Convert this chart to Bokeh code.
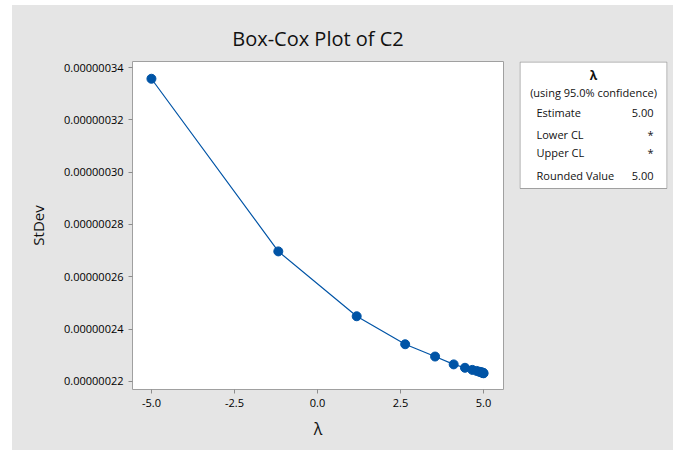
from bokeh.plotting import figure
from bokeh.layouts import row
from bokeh.models import Range1d, FixedTicker, PrintfTickFormatter, NumeralTickFormatter
from bokeh.core.properties import value
from bokeh.embed import file_html
from bokeh.resources import INLINE

# Data
lam = [-5.0, -1.18, 1.18, 2.64, 3.54, 4.10, 4.44, 4.66, 4.79, 4.87, 4.92, 4.95, 4.97, 4.98, 4.99, 5.0]
stdev = [3.357e-7, 2.697e-7, 2.449e-7, 2.342e-7, 2.295e-7, 2.265e-7, 2.252e-7, 2.244e-7,
         2.240e-7, 2.237e-7, 2.235e-7, 2.234e-7, 2.233e-7, 2.233e-7, 2.232e-7, 2.231e-7]
x_ticks = [-5.0, -2.5, 0.0, 2.5, 5.0]
y_ticks = [2.2e-7, 2.4e-7, 2.6e-7, 2.8e-7, 3.0e-7, 3.2e-7, 3.4e-7]

legend_title = "λ"
legend_sub = "(using 95.0% confidence)"
legend_names = ["Estimate", "Lower CL", "Upper CL", "Rounded Value"]
legend_vals = ["5.00", "*", "*", "5.00"]

BG = "#E5E5E5"
BLUE = "#0054A6"
FONT = "Open Sans"

p = figure(width=501, height=445, output_backend="svg", toolbar_location=None,
           x_range=Range1d(-5.57, 5.6), y_range=Range1d(2.169e-7, 3.423e-7),
           min_border_left=120, min_border_right=10, min_border_top=56, min_border_bottom=61,
           title="Box-Cox Plot of C2")
p.border_fill_color = BG
p.background_fill_color = "white"
p.outline_line_color = "#A0A0A0"
p.outline_line_width = 1
p.grid.visible = False

p.title.align = "center"
p.title.text_font = FONT
p.title.text_font_size = "20px"
p.title.text_font_style = "normal"
p.title.text_color = "#111111"
p.title.standoff = 19

for ax in (p.xaxis[0], p.yaxis[0]):
    ax.axis_line_color = None
    ax.major_tick_line_color = "#8C8C8C"
    ax.major_tick_out = 4
    ax.major_tick_in = 0
    ax.minor_tick_line_color = None
    ax.major_label_text_font = FONT
    ax.major_label_text_font_size = "11px"
    ax.major_label_text_color = "#000000"
    ax.axis_label_text_font = FONT
    ax.axis_label_text_font_style = "normal"
    ax.axis_label_text_color = "#111111"

p.xaxis.ticker = FixedTicker(ticks=x_ticks)
p.xaxis.formatter = NumeralTickFormatter(format="0.0")
p.xaxis.axis_label = "λ"
p.xaxis.axis_label_text_font_size = "16px"
p.xaxis.axis_label_standoff = 8

p.yaxis.ticker = FixedTicker(ticks=y_ticks)
p.yaxis.formatter = PrintfTickFormatter(format="%.8f")
p.yaxis.axis_label = "StDev"
p.yaxis.axis_label_text_font_size = "15px"
p.yaxis.axis_label_standoff = 13

p.line(lam, stdev, line_color=BLUE, line_width=1.2)
p.scatter(lam, stdev, size=9, fill_color=BLUE, line_color=BLUE)

# Legend box as a separate panel (same vertical borders as the main plot)
q = figure(width=160, height=445, output_backend="svg", toolbar_location=None,
           x_axis_type=None, y_axis_type=None,
           x_range=Range1d(0, 148), y_range=Range1d(328, 0),
           min_border_left=6, min_border_right=6, min_border_top=56, min_border_bottom=61)
q.border_fill_color = BG
q.background_fill_color = BG
q.outline_line_color = None
q.grid.visible = False

q.quad(left=[0.5], right=[147.5], top=[0.5], bottom=[127], fill_color="white",
       line_color="#A0A0A0", line_width=1)

q.text(x=[74], y=[14], text=[legend_title], text_font=value(FONT), text_font_size="12px",
       text_font_style="bold", text_align="center", text_baseline="middle", text_color="#111111")
q.text(x=[74], y=[31], text=[legend_sub], text_font=value(FONT), text_font_size="11px",
       text_align="center", text_baseline="middle", text_color="#111111")
rows_y = [51, 73, 91, 114]
q.text(x=[17] * 4, y=rows_y, text=legend_names, text_font=value(FONT), text_font_size="11px",
       text_align="left", text_baseline="middle", text_color="#111111")
q.text(x=[134] * 4, y=rows_y, text=legend_vals, text_font=value(FONT), text_font_size="11px",
       text_align="right", text_baseline="middle", text_color="#111111")

layout = row(p, q, styles={"background-color": BG}, margin=(5, 0, 0, 12))
open("out.html", "w").write(file_html(layout, INLINE))
